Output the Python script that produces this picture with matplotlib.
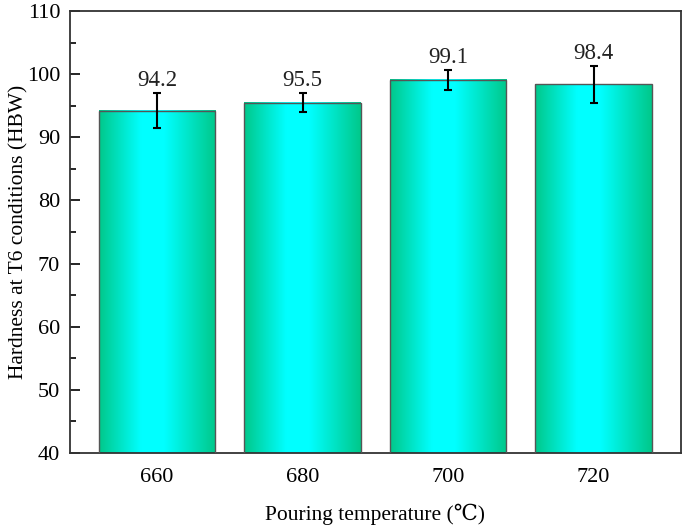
import numpy as np
import matplotlib.pyplot as plt
from matplotlib.colors import LinearSegmentedColormap

# data
temps = ["660", "680", "700", "720"]
hardness = [94.2, 95.5, 99.1, 98.4]
errors = [2.8, 1.5, 1.6, 2.9]

plt.rcParams['font.family'] = ['Liberation Serif', 'DejaVu Serif']

fig = plt.figure(figsize=(6.85, 5.25), dpi=100)
ax = fig.add_axes([0.102, 0.137, 0.892, 0.842])

x = np.arange(len(temps))
width = 0.8
bars = ax.bar(x, hardness, width=width, color='none', edgecolor='#555555',
              linewidth=1.0, zorder=3)

# horizontal green -> cyan -> green gradient inside each bar
cmap = LinearSegmentedColormap.from_list(
    'gc', [(0.0, '#00c88a'), (0.36, '#00ffff'), (0.56, '#00ffff'), (1.0, '#00c88a')])
grad = np.linspace(0, 1, 256).reshape(1, -1)
for b in bars:
    x0, y0 = b.get_x(), b.get_y()
    ax.imshow(grad, cmap=cmap, aspect='auto', zorder=2,
              extent=[x0, x0 + b.get_width(), y0, y0 + b.get_height()])

ax.errorbar(x, hardness, yerr=errors, fmt='none', ecolor='black',
            elinewidth=1.5, capsize=3, capthick=1.5, zorder=4)

for xi, v, e in zip(x, hardness, errors):
    ax.text(xi, v + e + 0.3, f"{v:.1f}", ha='center', va='bottom',
            fontsize=16.5, color='#222222', zorder=5)

ax.set_xlim(-0.6, 3.6)
ax.set_ylim(40, 110)
ax.set_xticks(x)
ax.set_xticklabels(temps)
ax.set_yticks(np.arange(40, 111, 10))
ax.set_yticks(np.arange(45, 110, 10), minor=True)
ax.tick_params(axis='both', which='major', direction='in', length=7, width=1.2,
               labelsize=16, top=False, right=False)
ax.tick_params(axis='x', which='major', pad=11)
ax.tick_params(axis='y', which='major', pad=7)
ax.tick_params(axis='y', which='minor', direction='in', length=4, width=1.2)
for s in ax.spines.values():
    s.set_linewidth(1.3)
    s.set_color('#333333')

ax.set_xlabel("Pouring temperature (\u2103)", fontsize=15.5, labelpad=12)
ax.set_ylabel("Hardness at T6 conditions (HBW)", fontsize=15.5)
ax.yaxis.set_label_coords(-0.068, 0.5)

fig.savefig("out.png", dpi=100)
